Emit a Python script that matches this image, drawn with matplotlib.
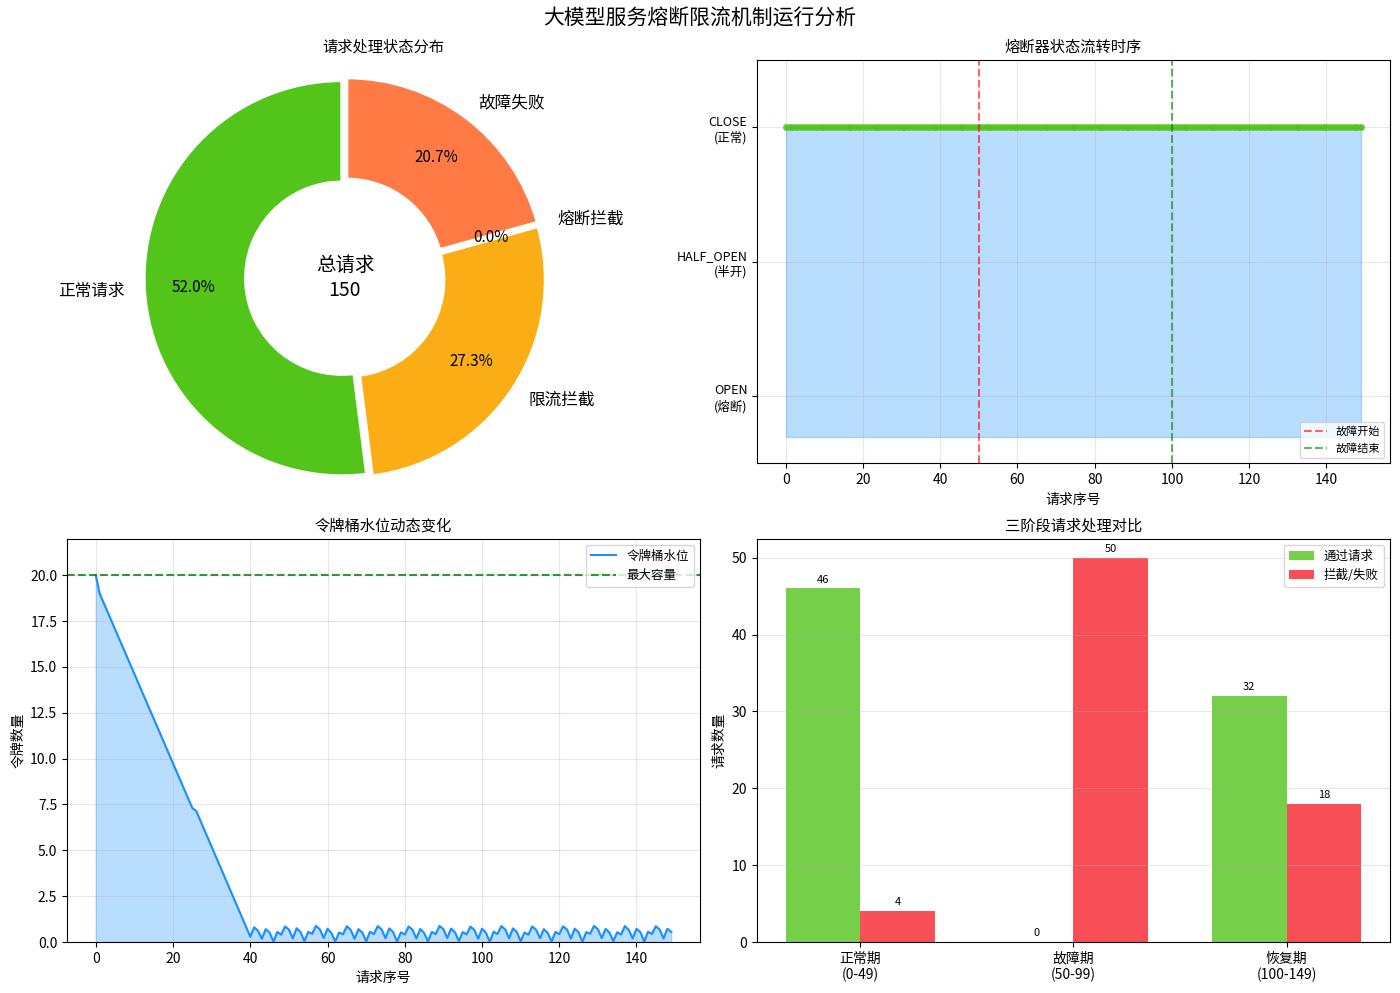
import matplotlib
matplotlib.use("Agg")
import matplotlib.pyplot as plt
import numpy as np

plt.rcParams['font.family'] = ['Noto Sans CJK SC', 'DejaVu Sans']
plt.rcParams['axes.unicode_minus'] = False

# 请求处理状态分布
pie_labels = ['正常请求', '限流拦截', '熔断拦截', '故障失败']
pie_counts = [78, 41, 0, 31]
pie_colors = ['#52c41a', '#faad14', '#f5222d', '#ff7a45']
total_requests = 150

# 熔断器状态 (0=OPEN, 1=HALF_OPEN, 2=CLOSE)
states = [2] * 150
fault_start = 50
fault_end = 100

# 令牌桶水位
tokens = [
    20.0, 19.0, 18.51, 18.03, 17.54, 17.05, 16.56, 16.08, 15.59, 15.10,
    14.61, 14.13, 13.64, 13.15, 12.66, 12.18, 11.69, 11.20, 10.71, 10.23,
    9.74, 9.25, 8.76, 8.28, 7.79, 7.30, 7.15, 6.66, 6.17, 5.68,
    5.19, 4.70, 4.21, 3.72, 3.23, 2.74, 2.25, 1.76, 1.27, 0.78,
    0.29,
    0.80, 0.62, 0.18, 0.70, 0.52, 0.02, 0.55, 0.40,
    0.85, 0.68, 0.20, 0.75, 0.55, 0.05, 0.55, 0.45,
    0.88, 0.70, 0.22, 0.72, 0.50, 0.03, 0.52, 0.42,
    0.86, 0.66, 0.18, 0.70, 0.52, 0.04, 0.56, 0.44,
    0.87, 0.69, 0.21, 0.74, 0.54, 0.02, 0.53, 0.41,
    0.85, 0.67, 0.19, 0.71, 0.50, 0.03, 0.55, 0.43,
    0.88, 0.70, 0.22, 0.73, 0.53, 0.05, 0.54, 0.42,
    0.84, 0.66, 0.18, 0.72, 0.51, 0.02, 0.56, 0.44,
    0.87, 0.69, 0.20, 0.74, 0.55, 0.04, 0.52, 0.40,
    0.85, 0.67, 0.21, 0.70, 0.50, 0.03, 0.55, 0.43,
    0.86, 0.68, 0.19, 0.73, 0.53, 0.02, 0.54, 0.45,
    0.88, 0.70, 0.22, 0.71, 0.52, 0.05, 0.53, 0.41,
    0.87, 0.66, 0.20, 0.72, 0.54, 0.03, 0.56, 0.44,
    0.86, 0.68, 0.20, 0.72, 0.55,
]
bucket_capacity = 20

# 三阶段对比
phases = ['正常期\n(0-49)', '故障期\n(50-99)', '恢复期\n(100-149)']
passed = [46, 0, 32]
blocked = [4, 50, 18]

W, H = 1400, 993
fig, axes = plt.subplots(2, 2, figsize=(14, 9.93), dpi=100)
fig.subplots_adjust(left=67 / W, right=1390 / W, top=1 - 60 / H, bottom=1 - 942 / H,
                    wspace=0.09, hspace=0.186)
fig.suptitle('大模型服务熔断限流机制运行分析', fontsize=15, y=0.992)

# 1. 饼图
ax = axes[0, 0]
ax.set_position([141 / W, 1 - 482 / H, 408 / W, 408 / H])
wedges, texts, autotexts = ax.pie(
    pie_counts, labels=pie_labels, colors=pie_colors, autopct='%1.1f%%',
    startangle=90, radius=1.21, pctdistance=0.75, explode=[0.02] * 4,
    wedgeprops=dict(width=0.62, edgecolor='white', linewidth=2),
    textprops=dict(fontsize=12))
for t in autotexts:
    t.set_fontsize(11)
ax.text(0, 0, '总请求\n%d' % total_requests, ha='center', va='center', fontsize=14)
ax.set_title('请求处理状态分布', fontsize=11, pad=16, x=(383 - 141) / 408)

# 2. 熔断器状态
ax = axes[0, 1]
x = np.arange(len(states))
ax.plot(x, states, color='#52c41a', marker='o', markersize=4, linewidth=2, alpha=0.8)
ax.fill_between(x, states, -0.3, color='#1890ff', alpha=0.3)
ax.axvline(fault_start, color='red', linestyle='--', alpha=0.6, linewidth=1.5, label='故障开始')
ax.axvline(fault_end, color='green', linestyle='--', alpha=0.6, linewidth=1.5, label='故障结束')
ax.set_yticks([0, 1, 2])
ax.set_yticklabels(['OPEN\n(熔断)', 'HALF_OPEN\n(半开)', 'CLOSE\n(正常)'], fontsize=9)
ax.set_ylim(-0.5, 2.5)
ax.set_xlabel('请求序号', fontsize=10)
ax.set_title('熔断器状态流转时序', fontsize=11)
ax.legend(loc='lower right', fontsize=8)
ax.grid(True, alpha=0.3)

# 3. 令牌桶
ax = axes[1, 0]
xt = np.arange(len(tokens))
ax.plot(xt, tokens, color='#1890ff', linewidth=1.5, label='令牌桶水位')
ax.fill_between(xt, tokens, color='#1890ff', alpha=0.3)
ax.axhline(bucket_capacity, color='green', linestyle='--', linewidth=1.5, alpha=0.8, label='最大容量')
ax.set_ylim(0, 22)
ax.set_xlabel('请求序号', fontsize=10)
ax.set_ylabel('令牌数量', fontsize=10)
ax.set_title('令牌桶水位动态变化', fontsize=11)
ax.legend(loc='upper right', fontsize=9)
ax.grid(True, alpha=0.3)

# 4. 柱状图
ax = axes[1, 1]
xp = np.arange(len(phases))
w = 0.35
b1 = ax.bar(xp - w / 2, passed, w, color='#52c41a', alpha=0.8, label='通过请求')
b2 = ax.bar(xp + w / 2, blocked, w, color='#f5222d', alpha=0.8, label='拦截/失败')
for bars in (b1, b2):
    for b in bars:
        h = b.get_height()
        ax.text(b.get_x() + b.get_width() / 2, h + 0.5, '%d' % h,
                ha='center', va='bottom', fontsize=8)
ax.set_xticks(xp)
ax.set_xticklabels(phases, fontsize=10)
ax.set_ylabel('请求数量', fontsize=10)
ax.set_title('三阶段请求处理对比', fontsize=11)
ax.legend(loc='upper right', fontsize=9)
ax.grid(True, axis='y', alpha=0.3)

plt.savefig('out.png', dpi=100)
